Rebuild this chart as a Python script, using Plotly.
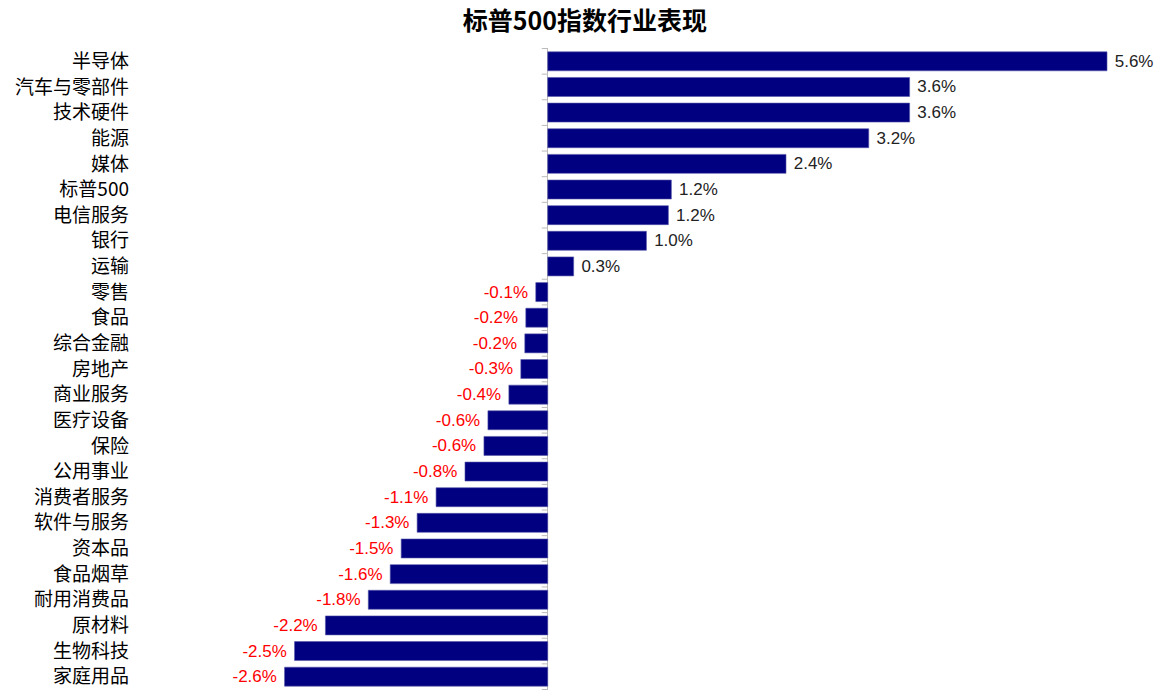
import plotly.graph_objects as go

# sector returns (%), top to bottom as in the picture
sectors = ['半导体', '汽车与零部件', '技术硬件', '能源', '媒体', '标普500', '电信服务', '银行', '运输',
           '零售', '食品', '综合金融', '房地产', '商业服务', '医疗设备', '保险', '公用事业', '消费者服务',
           '软件与服务', '资本品', '食品烟草', '耐用消费品', '原材料', '生物科技', '家庭用品']
returns = [5.61, 3.63, 3.63, 3.22, 2.39, 1.24, 1.21, 0.99, 0.26,
           -0.12, -0.22, -0.23, -0.27, -0.39, -0.60, -0.64, -0.83, -1.12,
           -1.31, -1.47, -1.58, -1.80, -2.23, -2.54, -2.64]

label_colors = ['#222222' if v >= 0 else 'red' for v in returns]
# a space on the bar side gives the labels a bit of room
label_fmt = [' %{x:.1f}%' if v >= 0 else '%{x:.1f}% ' for v in returns]

fig = go.Figure()
fig.add_trace(go.Bar(
    y=sectors, x=returns, orientation='h',
    marker=dict(color='#000080', line=dict(color='#5555aa', width=0.6)),
    texttemplate=label_fmt, textposition='outside',
    textfont=dict(family='Liberation Sans, Arial', size=17, color=label_colors),
    cliponaxis=False, hoverinfo='skip'
))

# little grey ticks between categories on the zero line
for i in range(len(sectors) + 1):
    fig.add_shape(type='line', xref='x', yref='y', x0=-0.06, x1=0, y0=i - 0.5, y1=i - 0.5,
                  line=dict(color='#bbbbbb', width=1))

# the page body has an 8px margin, so the figure is 8px smaller than the window
fig.update_layout(
    width=1154, height=689,
    title=dict(text='<b>标普500指数行业表现</b>', x=0.5, xanchor='center',
               yref='container', y=1 - 13 / 689, yanchor='middle',
               font=dict(family='Noto Sans CJK SC', size=25, color='black')),
    margin=dict(l=129, r=52, t=40, b=7),
    plot_bgcolor='white', paper_bgcolor='white',
    bargap=0.26, showlegend=False,
    xaxis=dict(range=[-4.09, 5.64], showticklabels=False, showgrid=False, ticks='',
               zeroline=True, zerolinecolor='#bbbbbb', zerolinewidth=1),
    yaxis=dict(autorange='reversed', showgrid=False, ticks='', ticklabelstandoff=10,
               tickfont=dict(family='Noto Sans CJK SC', size=19, color='black'))
)

fig.write_html('out.html')
